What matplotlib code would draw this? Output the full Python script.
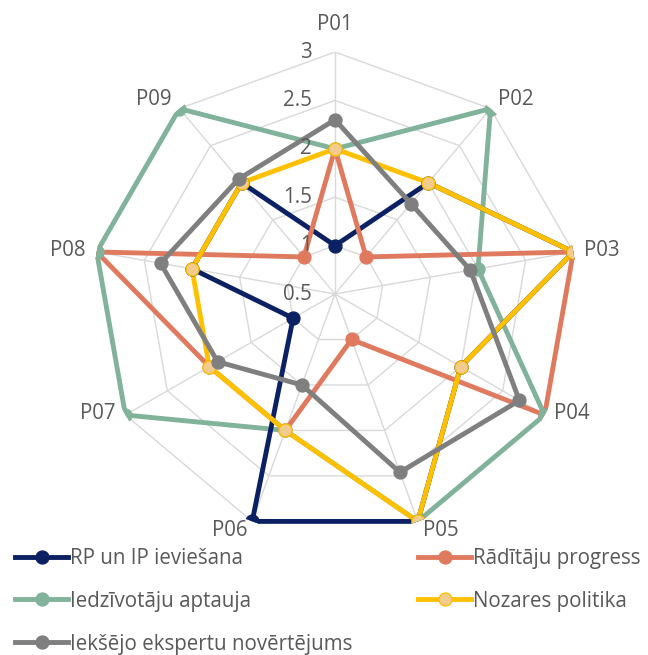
import numpy as np
import matplotlib
matplotlib.use('Agg')
import matplotlib.pyplot as plt
from matplotlib.lines import Line2D
import matplotlib.transforms as mtransforms

plt.rcParams['font.family'] = ['Open Sans', 'DejaVu Sans']

categories = ['P01', 'P02', 'P03', 'P04', 'P05', 'P06', 'P07', 'P08', 'P09']
rp_ip = [1, 2, 3, 2, 3, 3, 1, 2, 2]
raditaju = [2, 1, 3, 3, 1, 2, 2, 3, 1]
iedzivotaju = [2, 3, 2, 3, 3, 2, 3, 3, 3]
nozares = [2, 2, 3, 2, 3, 2, 2, 2, 2]
ieksejo = [2.3, 1.72, 1.92, 2.7, 2.46, 1.5, 1.9, 2.33, 2.05]
r_ticks = [0.5, 1, 1.5, 2, 2.5, 3]
r_tick_labels = ['0.5', '1', '1.5', '2', '2.5', '3']

series = [
    ('RP un IP ieviešana', rp_ip, '#0B2163', '#0B2163', '#0B2163'),
    ('Rādītāju progress', raditaju, '#E07A5F', '#E07A5F', '#E07A5F'),
    ('Iedzīvotāju aptauja', iedzivotaju, '#81B29A', '#81B29A', '#81B29A'),
    ('Nozares politika', nozares, '#FFC000', '#F2CB8E', '#FFC000'),
    ('Iekšējo ekspertu novērtējums', ieksejo, '#7F7F7F', '#7F7F7F', '#7F7F7F'),
]
line_z = {'RP un IP ieviešana': 2.1, 'Rādītāju progress': 2.2, 'Iedzīvotāju aptauja': 2.0,
          'Nozares politika': 2.3, 'Iekšējo ekspertu novērtējums': 2.4}

W, H = 648, 655
fig = plt.figure(figsize=(W / 100, H / 100), dpi=100)
cx, cy, R = 335, 294, 242
ax = fig.add_axes([(cx - R) / W, (H - cy - R) / H, 2 * R / W, 2 * R / H], projection='polar')
ax.set_theta_zero_location('N')
ax.set_theta_direction(-1)
ax.set_ylim(r_ticks[0], r_ticks[-1])
ax.set_xticks([])
ax.set_yticks([])
ax.grid(False)
ax.spines['polar'].set_visible(False)
ax.patch.set_alpha(0)

n = len(categories)
theta = np.arange(n) * 2 * np.pi / n
theta_c = np.append(theta, theta[0])

grid_color = '#D9D9D9'
for lvl in r_ticks[1:]:
    ax.plot(theta_c, [lvl] * (n + 1), color=grid_color, lw=1.0, zorder=1)
for t in theta:
    ax.plot([t, t], [r_ticks[0], r_ticks[-1]], color=grid_color, lw=1.0, zorder=1)

LW = 3.5
MS = 9.3
for i, (name, vals, col, face, edge) in enumerate(series):
    v = np.append(vals, vals[0])
    ax.plot(theta_c, v, color=col, lw=LW, zorder=line_z[name], solid_joinstyle='round')
    ax.plot(theta, vals, linestyle='none', marker='o', markersize=MS,
            markerfacecolor=face, markeredgecolor=edge, markeredgewidth=1.0, zorder=3 + i * 0.1)

text_color = '#595959'
FS = 14.8
tr = mtransforms.offset_copy(ax.transData, fig=fig, x=-23, y=0, units='dots')
for rv, lab in zip(r_ticks, r_tick_labels):
    ax.text(0, rv, lab, transform=tr, ha='right', va='center', fontsize=FS, color=text_color)

for t, lab in zip(theta, categories):
    s, c = np.sin(t), np.cos(t)
    if abs(s) < 0.1:
        dx, dy, ha = 0, 27, 'center'
    else:
        gap = 2 + 9 * abs(s)
        dx = gap if s > 0 else -gap
        ha = 'left' if s > 0 else 'right'
        dy = 9 if c > 0.6 else (-9 if c < -0.6 else 1.5)
    trl = mtransforms.offset_copy(ax.transData, fig=fig, x=dx, y=dy, units='dots')
    ax.text(t, r_ticks[-1], lab, transform=trl, ha=ha, va='center', fontsize=FS, color=text_color)

handles = []
for name, vals, col, face, edge in series:
    handles.append(Line2D([0], [0], color=col, lw=LW, marker='o', markersize=MS,
                          markerfacecolor=face, markeredgecolor=edge, markeredgewidth=1.0))

fs_px = FS * 100 / 72
leg_kw = dict(loc='upper left', frameon=False, fontsize=FS, handlelength=53 / fs_px,
              handletextpad=0.12, labelspacing=(42.5 - fs_px) / fs_px, borderpad=0,
              borderaxespad=0, labelcolor=text_color)
idx1 = [0, 2, 4]
idx2 = [1, 3]
top = 556 - 7 - fs_px / 2 + 9
fig.legend([handles[i] for i in idx1], [series[i][0] for i in idx1],
           bbox_to_anchor=(15 / W, 1 - top / H), **leg_kw)
fig.legend([handles[i] for i in idx2], [series[i][0] for i in idx2],
           bbox_to_anchor=(418 / W, 1 - top / H), **leg_kw)

fig.savefig('out.png', dpi=100)
